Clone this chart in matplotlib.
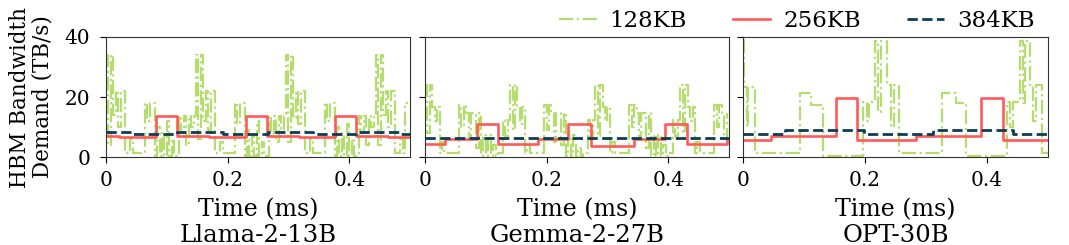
import numpy as np
import matplotlib
matplotlib.use("Agg")
import matplotlib.pyplot as plt
from matplotlib.lines import Line2D

plt.rcParams['font.family'] = ['DejaVu Serif']
plt.rcParams['font.size'] = 15

models = ["Llama-2-13B", "Gemma-2-27B", "OPT-30B"]
series_names = ["128KB", "256KB", "384KB"]
x_ticks = [0, 0.2, 0.4]
x_tick_labels = ["0", "0.2", "0.4"]
y_ticks = [0, 20, 40]

# 128KB demand, sampled every 0.004 ms (Llama, Gemma)
sample_dt = 0.004
llama_128 = [
    34, 4, 34, 14, 22, 10, 22, 22, 1.5, 1.5, 6, 1.5, 1.5, 1.5, 1.5, 1.5, 18, 12, 18, 18,
    0.5, 10, 0.5, 8, 0.5, 12, 0.5, 6, 0.5, 0.5, 13.5, 8, 13.5, 4, 13.5, 10, 13.5,
    34, 6, 34, 12, 22, 9, 22, 22, 1.5, 1.5, 5, 1.5, 1.5, 1.5, 1.5, 1.5, 18, 11, 18, 18,
    0.5, 9, 0.5, 7, 0.5, 12, 0.5, 5, 0.5, 0.5, 13.5, 7, 13.5, 5, 13.5, 9, 13.5,
    34, 5, 34, 13, 22, 11, 22, 22, 1.5, 1.5, 6, 1.5, 1.5, 1.5, 1.5, 1.5, 18, 12, 18, 18,
    0.5, 10, 0.5, 8, 0.5, 11, 0.5, 6, 0.5, 0.5, 13.5, 8, 13.5, 4, 13.5, 10, 13.5,
    34, 4, 34, 14, 22, 10, 22, 22, 1.5, 1.5, 6, 1.5, 18, 18,
]
gemma_128 = [
    24, 8, 24, 16.8, 12, 16.8, 1.3, 5, 1.3, 1.3, 1.3, 1.3, 1.3, 1.3, 17.3, 10, 17.3,
    14.5, 6, 14.5, 14.5, 3, 14.5, 0.5, 7.3, 0.5, 7.3, 0.5, 4, 0.5, 1.3, 1.3, 12.3, 7, 12.3,
    24, 9, 24, 16.8, 11, 16.8, 1.3, 4, 1.3, 1.3, 1.3, 1.3, 1.3, 1.3, 17.3, 9, 17.3,
    14.5, 5, 14.5, 14.5, 4, 14.5, 0.5, 7.3, 0.5, 7.3, 0.5, 3, 0.5, 1.3, 1.3, 12.3, 6, 12.3,
    24, 7, 24, 16.8, 12, 16.8, 1.3, 5, 1.3, 1.3, 1.3, 1.3, 1.3, 1.3, 17.3, 10, 17.3,
    14.5, 6, 14.5, 14.5, 3, 14.5, 0.5, 7.3, 0.5, 7.3, 0.5, 4, 0.5, 1.3, 1.3, 12.3, 7, 12.3,
    24, 8, 24, 16.8, 12, 16.8, 1.3, 5, 1.3, 1.3, 1.3, 1.3, 1.3, 1.3, 17.3, 10, 17.3,
    14.5, 6, 14.5,
]
# OPT 128KB as breakpoints (time ms, value)
opt_128_t = [0.000, 0.002, 0.006, 0.009, 0.019, 0.094, 0.112, 0.131, 0.197, 0.203, 0.207,
             0.216, 0.222, 0.226, 0.236, 0.242, 0.247, 0.256, 0.327, 0.349, 0.366, 0.432,
             0.438, 0.442, 0.454, 0.459, 0.463, 0.470, 0.476, 0.481, 0.490, 0.500]
opt_128_v = [39, 23.4, 10, 23.4, 1.3, 21.2, 17.3, 0.2, 18.4, 12, 18.4,
             38.5, 15, 38.5, 24, 10, 24, 1.3, 21.4, 17.9, 0.2, 18.4,
             10, 18.4, 38.5, 18, 38.5, 24, 12, 24, 1.3, 1.3]

# 256KB breakpoints
llama_256_t = [0, 0.021, 0.082, 0.117, 0.169, 0.230, 0.264, 0.317, 0.377, 0.412, 0.464, 0.5]
llama_256_v = [7.0, 6.6, 13.6, 7.0, 6.6, 13.6, 7.0, 6.6, 13.6, 7.0, 6.6, 6.6]
gemma_256_t = [0, 0.033, 0.085, 0.120, 0.186, 0.236, 0.273, 0.344, 0.395, 0.431, 0.496, 0.5]
gemma_256_v = [4.3, 6.1, 10.9, 4.3, 6.1, 10.9, 3.8, 6.1, 10.9, 4.3, 6.1, 6.1]
opt_256_t = [0, 0.046, 0.152, 0.187, 0.284, 0.390, 0.427, 0.5]
opt_256_v = [5.7, 7.1, 19.8, 5.7, 7.1, 19.8, 5.7, 5.7]

# 384KB breakpoints
llama_384_t = [0, 0.043, 0.117, 0.193, 0.266, 0.340, 0.412, 0.486, 0.5]
llama_384_v = [8.5, 7.7, 8.5, 7.7, 8.5, 7.7, 8.5, 7.7, 7.7]
gemma_384_t = [0, 0.5]
gemma_384_v = [6.3, 6.3]
opt_384_t = [0, 0.069, 0.198, 0.311, 0.443, 0.5]
opt_384_v = [7.7, 9.0, 7.7, 9.0, 7.7, 7.7]

c128 = '#b5dc6e'
c256 = '#ff5a5a'
c384 = '#0b3d52'

green_series = [
    (np.arange(len(llama_128)) * sample_dt, llama_128),
    (np.arange(len(gemma_128)) * sample_dt, gemma_128),
    (opt_128_t, opt_128_v),
]
red_series = [(llama_256_t, llama_256_v), (gemma_256_t, gemma_256_v), (opt_256_t, opt_256_v)]
blue_series = [(llama_384_t, llama_384_v), (gemma_384_t, gemma_384_v), (opt_384_t, opt_384_v)]

W, H = 1069, 245
fig = plt.figure(figsize=(W / 100, H / 100), dpi=100)
lefts = [106, 425, 743]
widths = [304, 304, 305]
top, bottom = 37, 157

for i, m in enumerate(models):
    ax = fig.add_axes([lefts[i] / W, 1 - bottom / H, widths[i] / W, (bottom - top) / H])
    gt, gv = green_series[i]
    ax.plot(gt, gv, drawstyle='steps-post', color=c128, lw=1.6, ls='-.', zorder=1)
    rt, rv = red_series[i]
    ax.plot(rt, rv, drawstyle='steps-post', color=c256, lw=1.9, zorder=2)
    bt, bv = blue_series[i]
    ax.plot(bt, bv, drawstyle='steps-post', color=c384, lw=2.0, ls='--', zorder=3)
    ax.set_xlim(0, 0.5)
    ax.set_ylim(0, 40)
    ax.set_xticks(x_ticks)
    ax.set_xticklabels(x_tick_labels)
    ax.set_yticks(y_ticks)
    ax.tick_params(axis='x', labelsize=14.5, length=4.5, pad=5.5)
    ax.tick_params(axis='y', labelsize=14.5, length=4.5, pad=7)
    if i != 0:
        ax.set_yticklabels([])
    for s in ax.spines.values():
        s.set_color('#333333')
    cx = (lefts[i] + widths[i] / 2) / W
    fig.text(cx, 1 - 216 / H, "Time (ms)", ha='center', va='baseline', fontsize=17)
    fig.text(cx, 1 - 242 / H, m, ha='center', va='baseline', fontsize=17.5)

fig.text(31 / W, 1 - 97 / H, "HBM Bandwidth\nDemand (TB/s)", rotation=90,
         ha='center', va='center', fontsize=15.5, linespacing=1.05)

handles = [
    Line2D([], [], color=c128, lw=1.6, ls='-.'),
    Line2D([], [], color=c256, lw=1.9),
    Line2D([], [], color=c384, lw=2.0, ls='--'),
]
fig.legend(handles, series_names, loc='center', bbox_to_anchor=(797 / W, 1 - 21 / H),
           ncol=3, frameon=False, fontsize=16.5, handlelength=1.64, columnspacing=2.0,
           handletextpad=0.57, borderaxespad=0, borderpad=0)

fig.savefig("out.png", dpi=100)
